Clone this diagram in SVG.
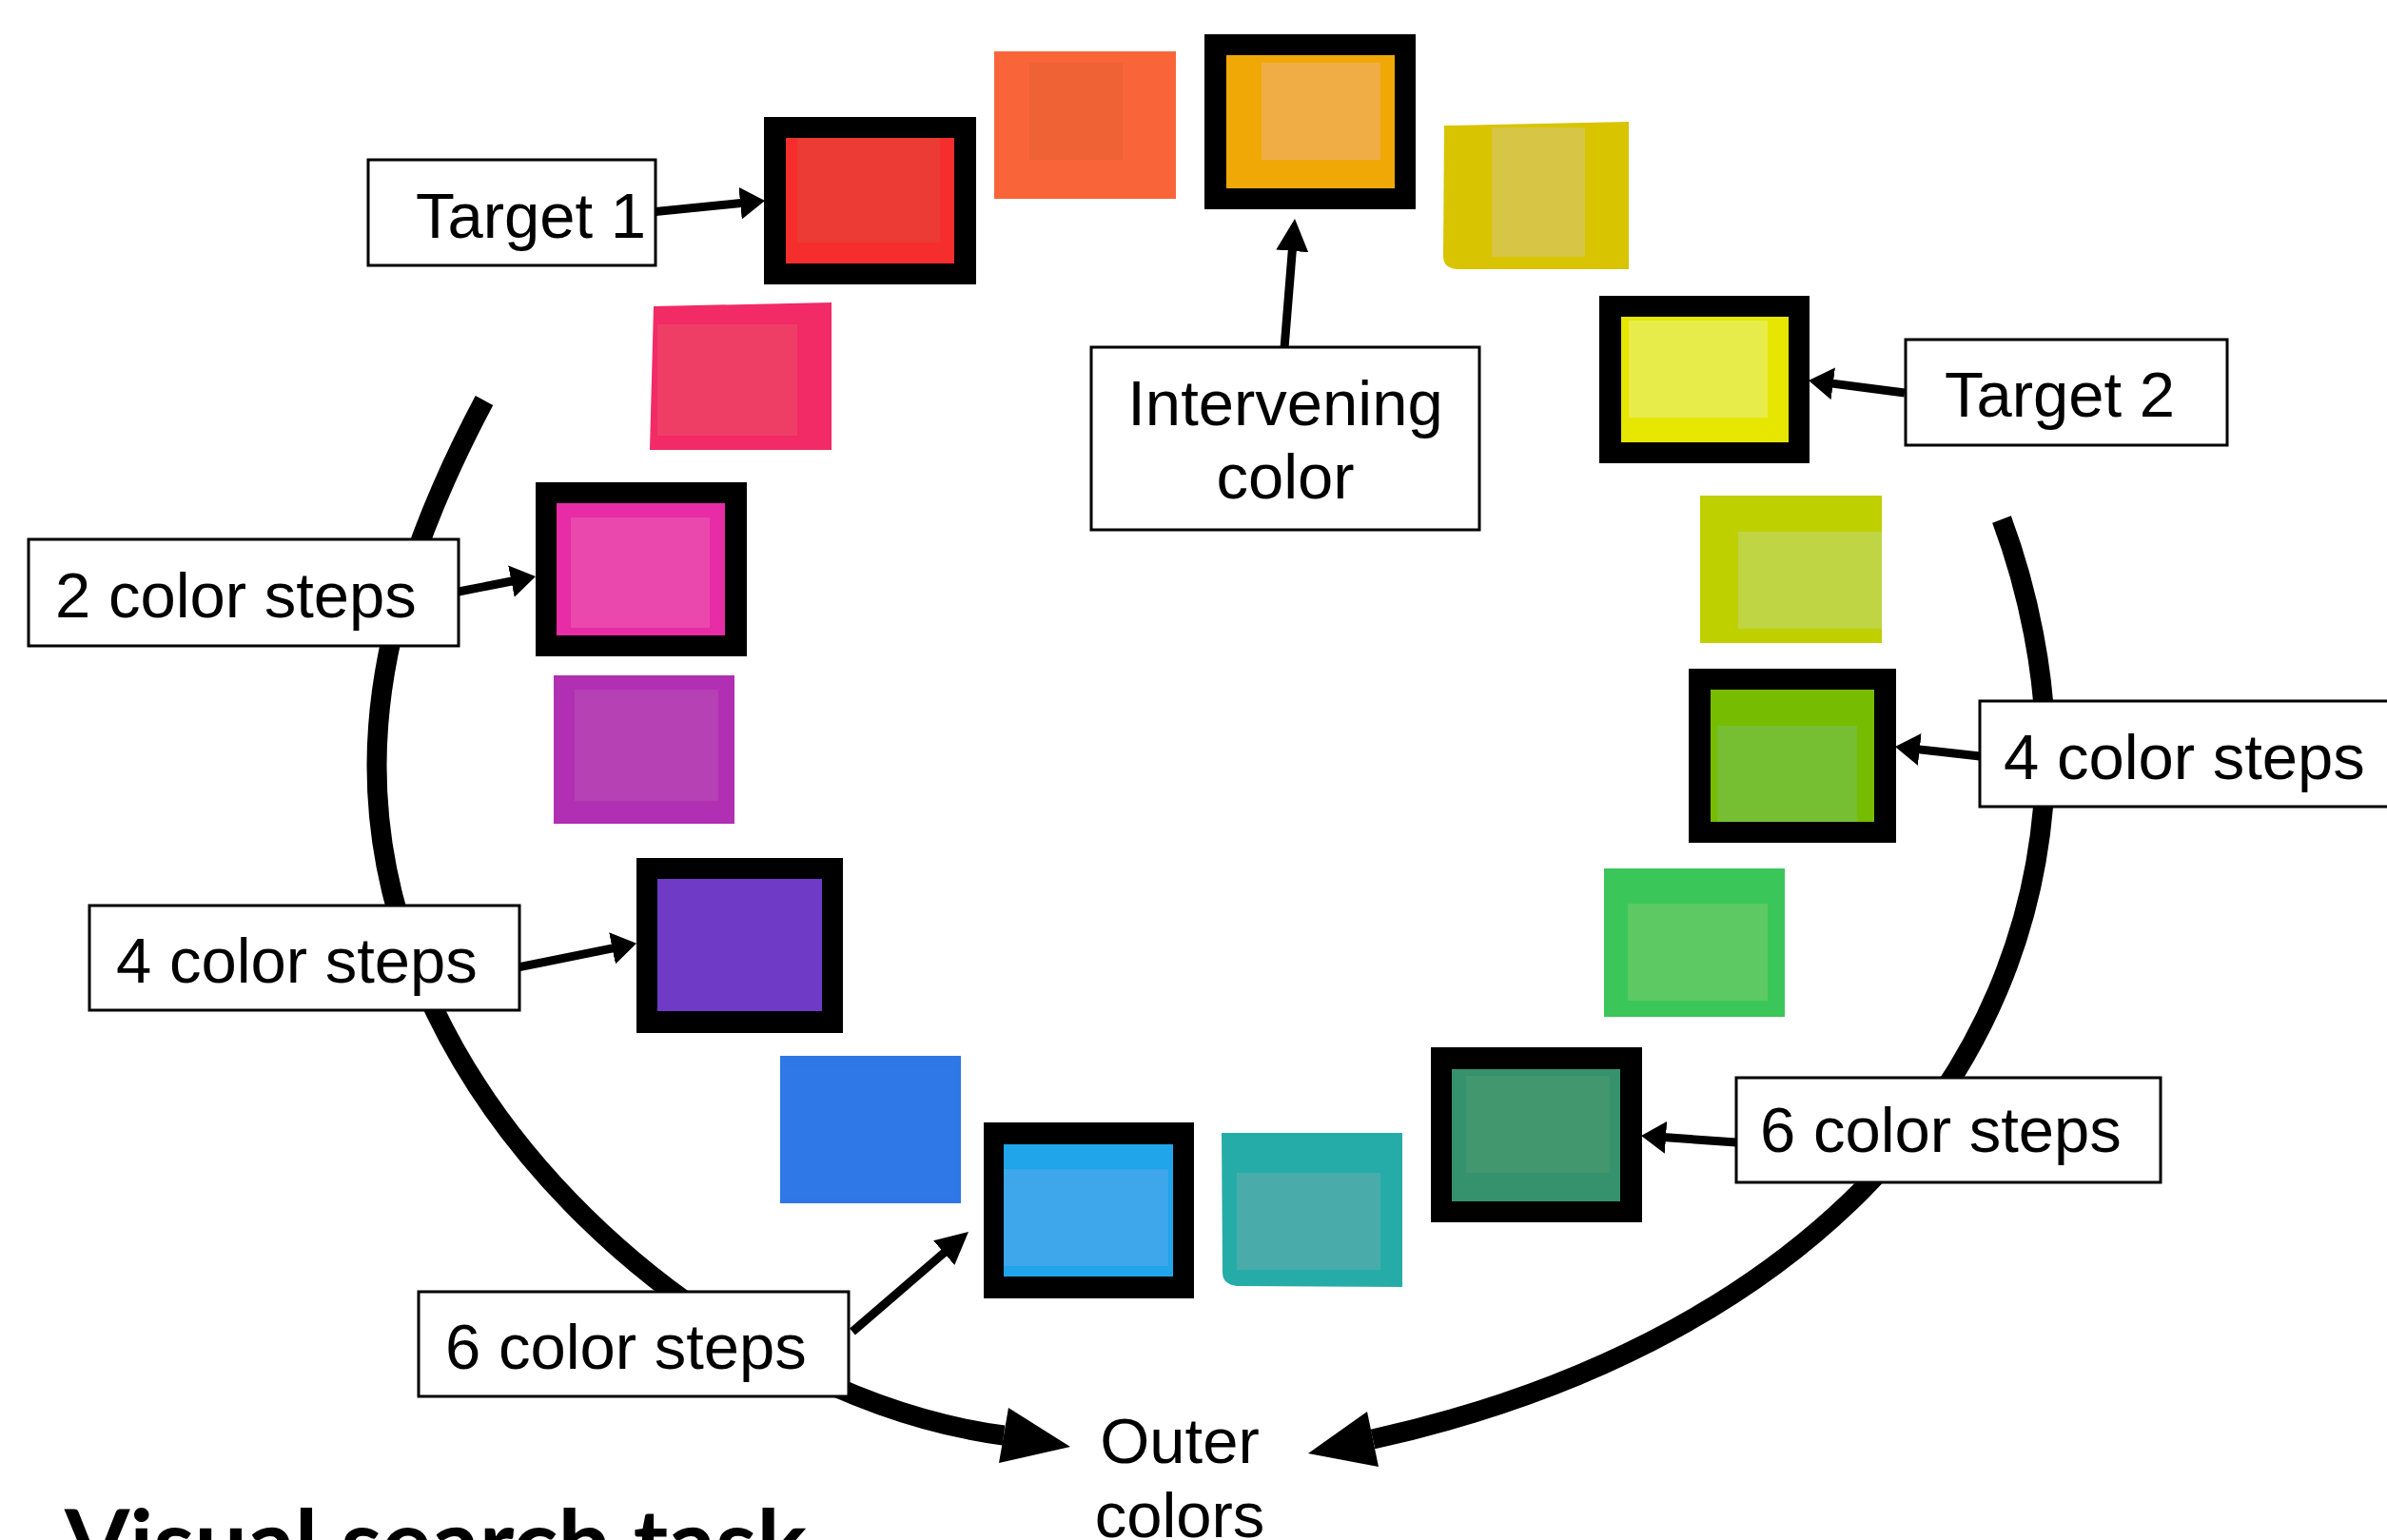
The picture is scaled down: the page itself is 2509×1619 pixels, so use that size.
<svg xmlns="http://www.w3.org/2000/svg" width="2509" height="1619" viewBox="0 0 2509 1619">
<style>
.lbl{fill:#fff;stroke:#000;stroke-width:3}
.t{font-family:"Liberation Sans",Arial,sans-serif;font-size:67px;fill:#000}
.arc{fill:none;stroke:#000;stroke-width:21}
.ln{fill:none;stroke:#000;stroke-width:9}
.frame{fill:#000}
</style>
<defs>
<marker id="ah" viewBox="0 0 26 34" markerWidth="26" markerHeight="34" refX="3" refY="17" orient="auto" markerUnits="userSpaceOnUse"><path d="M0,0 L26,17 L0,34 Z" fill="#000"/></marker>
<marker id="ahL" viewBox="0 0 34 34" markerWidth="34" markerHeight="34" refX="3" refY="17" orient="auto" markerUnits="userSpaceOnUse"><path d="M0,0 L34,17 L0,34 Z" fill="#000"/></marker>
</defs>
<rect width="2509" height="1619" fill="#fff"/>
<g id="connectors">
<path class="arc" d="M509,421 C446,540 396,670 396,805 C396,1170 760,1470 1055,1509"/>
<polygon points="1125,1521 1060,1480 1050,1538" fill="#000"/>
<path class="arc" d="M2104,546 C2132,621 2150,710 2150,790 C2150,1150 1872,1418 1443,1513"/>
<polygon points="1375,1528 1437,1484 1449,1542" fill="#000"/>
<line class="ln" x1="689" y1="222.5" x2="781.1" y2="213.3" marker-end="url(#ah)"/>
<line class="ln" x1="1350" y1="366" x2="1358.5" y2="260.9" marker-end="url(#ahL)"/>
<line class="ln" x1="2002" y1="413" x2="1923.8" y2="402.9" marker-end="url(#ah)"/>
<line class="ln" x1="482" y1="622" x2="540.4" y2="610.5" marker-end="url(#ah)"/>
<line class="ln" x1="546" y1="1016.7" x2="646.5" y2="996.3" marker-end="url(#ah)"/>
<line class="ln" x1="896" y1="1400" x2="994.5" y2="1315.2" marker-end="url(#ahL)"/>
<line class="ln" x1="2081" y1="795" x2="2014.8" y2="787.6" marker-end="url(#ah)"/>
<line class="ln" x1="1825" y1="1201" x2="1748" y2="1195.6" marker-end="url(#ah)"/>
</g>
<g id="sq-red-target">
<rect class="frame" x="803" y="123" width="223" height="176"/>
<rect x="826" y="145" width="177" height="132" fill="#F52D2D"/>
<rect x="838" y="145" width="150" height="110" fill="#EC3A34"/>
</g>
<g id="sq-orange">
<rect x="1045" y="54" width="191" height="155" fill="#F96539"/>
<rect x="1082" y="66" width="98" height="102" fill="#EE6236"/>
</g>
<g id="sq-amber-target">
<rect class="frame" x="1266" y="36" width="222" height="184"/>
<rect x="1289" y="58" width="177" height="140" fill="#F0A807"/>
<rect x="1326" y="66" width="125" height="102" fill="#F0AD46"/>
</g>
<g id="sq-olive">
<path d="M1518,132 L1712,128 L1712,283 L1532,283 Q1517,282 1517,270 Z" fill="#D8C400"/>
<rect x="1568" y="134" width="98" height="136" fill="#D7C545"/>
</g>
<g id="sq-yellow-target">
<rect class="frame" x="1681" y="311" width="221" height="176"/>
<rect x="1704" y="333" width="176" height="132" fill="#E6E600"/>
<rect x="1712" y="337" width="146" height="102" fill="#E8EC4B"/>
</g>
<g id="sq-yellowgreen">
<rect x="1787" y="521" width="191" height="155" fill="#BED000"/>
<rect x="1827" y="559" width="151" height="102" fill="#BFD544"/>
</g>
<g id="sq-lime-target">
<rect class="frame" x="1775" y="703" width="218" height="183"/>
<rect x="1798" y="725" width="172" height="139" fill="#76BC00"/>
<rect x="1805" y="763" width="147" height="101" fill="#76BF33"/>
</g>
<g id="sq-green">
<rect x="1686" y="913" width="190" height="156" fill="#3BC65A"/>
<rect x="1711" y="950" width="147" height="102" fill="#5DC962"/>
</g>
<g id="sq-darkgreen-target">
<rect class="frame" x="1504" y="1101" width="222" height="184"/>
<rect x="1526" y="1124" width="177" height="139" fill="#35926C"/>
<rect x="1541" y="1131" width="151" height="102" fill="#42976F"/>
</g>
<g id="sq-teal">
<path d="M1284,1191 L1474,1191 L1474,1353 L1300,1352 Q1285,1350 1285,1338 Z" fill="#26ACA8"/>
<rect x="1300" y="1233" width="151" height="102" fill="#4AABAB"/>
</g>
<g id="sq-lightblue-target">
<rect class="frame" x="1034" y="1180" width="221" height="185"/>
<rect x="1055" y="1203" width="178" height="139" fill="#20A5EA"/>
<rect x="1055" y="1229" width="173" height="102" fill="#3EA6EA"/>
</g>
<g id="sq-blue">
<rect x="820" y="1110" width="190" height="155" fill="#2E77E6"/>
<rect x="822" y="1122" width="180" height="135" fill="#2E78E8"/>
</g>
<g id="sq-purple-target">
<rect class="frame" x="669" y="902" width="217" height="184"/>
<rect x="691" y="924" width="173" height="139" fill="#6F3BC6"/>
</g>
<g id="sq-violet">
<rect x="582" y="710" width="190" height="156" fill="#B02FB2"/>
<rect x="604" y="725" width="151" height="117" fill="#B541B4"/>
</g>
<g id="sq-magenta-target">
<rect class="frame" x="563" y="507" width="222" height="183"/>
<rect x="585" y="529" width="177" height="139" fill="#E72CA5"/>
<rect x="600" y="544" width="146" height="116" fill="#EB48AD"/>
</g>
<g id="sq-pink">
<path d="M687,322 L874,318 L874,473 L683,473 Z" fill="#F22A66"/>
<rect x="691" y="341" width="147" height="117" fill="#EE3E66"/>
</g>
<g id="lbl-target1">
<rect class="lbl" x="387" y="168" width="302" height="111"/>
<text class="t" x="437" y="250">Target 1</text>
</g>
<g id="lbl-intervening">
<rect class="lbl" x="1147" y="365" width="408" height="192"/>
<text class="t" x="1351" y="447" text-anchor="middle">Intervening</text>
<text class="t" x="1351" y="524" text-anchor="middle">color</text>
</g>
<g id="lbl-target2">
<rect class="lbl" x="2003" y="357" width="338" height="111"/>
<text class="t" x="2044" y="438">Target 2</text>
</g>
<g id="lbl-2steps">
<rect class="lbl" x="30" y="567" width="452" height="112"/>
<text class="t" x="58" y="649">2 color steps</text>
</g>
<g id="lbl-4steps-left">
<rect class="lbl" x="94" y="952" width="452" height="110"/>
<text class="t" x="122" y="1033">4 color steps</text>
</g>
<g id="lbl-4steps-right">
<rect class="lbl" x="2081" y="737" width="440" height="111"/>
<text class="t" x="2106" y="819">4 color steps</text>
</g>
<g id="lbl-6steps-right">
<rect class="lbl" x="1825" y="1133" width="446" height="110"/>
<text class="t" x="1850" y="1211">6 color steps</text>
</g>
<g id="lbl-6steps-bottom">
<rect class="lbl" x="440" y="1358" width="452" height="110"/>
<text class="t" x="468" y="1439">6 color steps</text>
</g>
<g id="outer-colors">
<text class="t" x="1240" y="1538" text-anchor="middle">Outer</text>
<text class="t" x="1240" y="1616" text-anchor="middle">colors</text>
</g>
<g id="title">
<text x="68" y="1656" font-family="Lato,'Liberation Sans',sans-serif" font-weight="700" font-size="96" textLength="780" lengthAdjust="spacingAndGlyphs">Visual search task</text>
</g>
</svg>
